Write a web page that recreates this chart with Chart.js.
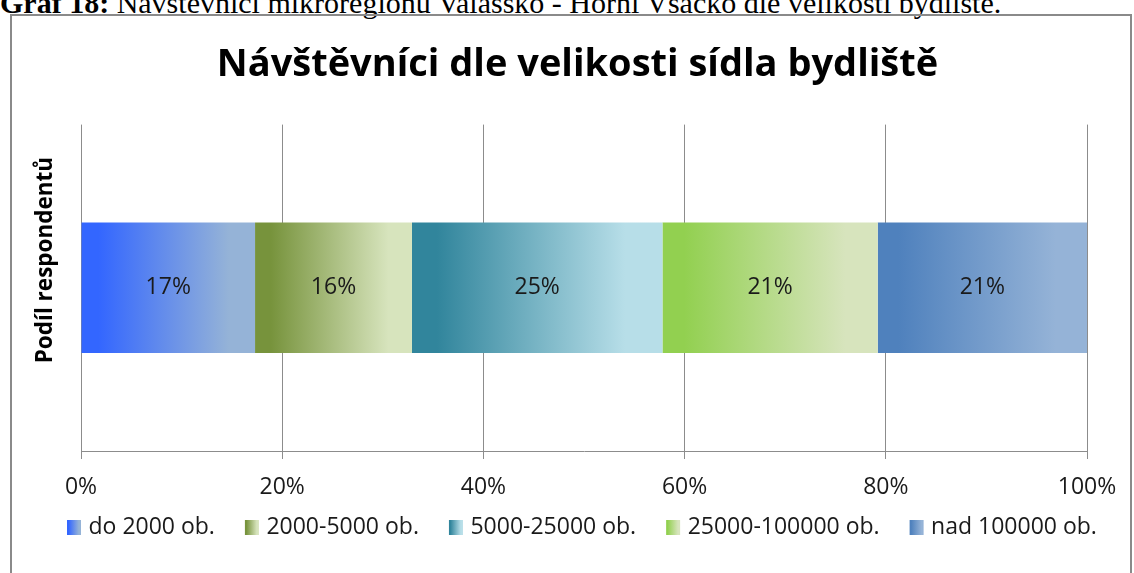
<!DOCTYPE html>
<html>
<head>
<meta charset="utf-8">
<script src="https://cdn.jsdelivr.net/npm/chart.js@4.4.0/dist/chart.umd.min.js"></script>
<style>
  body { margin: 0; background: #fff; overflow: hidden; width: 1134px; height: 573px; position: relative; }
  #caption { position: absolute; left: 0; top: -12px; font-family: "Liberation Serif", serif; font-size: 30px; line-height: 1; white-space: nowrap; color: #000; }
  #frame { position: absolute; left: 10px; top: 14px; width: 1122px; height: 620px; border: 2px solid #8a8a8a; box-sizing: border-box; }
  #wrap { position: absolute; left: 0; top: 0; width: 1134px; height: 549px; }
</style>
</head>
<body>
<div id="caption"><b>Graf 18:</b> Návštěvníci mikroregionu Valašsko - Horní Vsacko dle velikosti bydliště.</div>
<div id="frame"></div>
<div id="wrap"><canvas id="myChart" width="1134" height="549"></canvas></div>
<script>
const chartTitle = 'Návštěvníci dle velikosti sídla bydliště';
const axisTitle = 'Podíl respondentů';
const categories = [''];
const seriesNames = ['do 2000 ob.', '2000-5000 ob.', '5000-25000 ob.', '25000-100000 ob.', 'nad 100000 ob.'];
const seriesValues = [17.3, 15.6, 24.9, 21.4, 20.8];
const tickLabels = ['0%', '20%', '40%', '60%', '80%', '100%'];

// gradient ends for each segment (dark on the left, light on the right)
const darkColors = ['#3366ff', '#77933c', '#31859c', '#92d050', '#4f81bd'];
const lightColors = ['#95b3d7', '#d7e4bd', '#b7dee8', '#d7e4bd', '#95b3d7'];
const textColor = '#1a1a1a';
const gridColor = '#8c8c8c';
const legendGap = 15;

function makeGradient(ctx, x0, x1, i) {
  const g = ctx.createLinearGradient(x0, 0, x1, 0);
  g.addColorStop(0, darkColors[i]);
  g.addColorStop(0.1, darkColors[i]);
  g.addColorStop(0.85, lightColors[i]);
  g.addColorStop(1, lightColors[i]);
  return g;
}

function segmentFill(i) {
  return function (c) {
    const chart = c.chart;
    if (!chart.chartArea || !chart.scales.x) return darkColors[i];
    const start = seriesValues.slice(0, i).reduce((a, b) => a + b, 0);
    const x = chart.scales.x;
    return makeGradient(chart.ctx, x.getPixelForValue(start), x.getPixelForValue(start + seriesValues[i]), i);
  };
}

// percentage written in the middle of every segment
const barLabels = {
  id: 'barLabels',
  afterDatasetsDraw(chart) {
    const ctx = chart.ctx;
    ctx.save();
    ctx.font = '23px "Open Sans"';
    ctx.fillStyle = textColor;
    ctx.textAlign = 'center';
    ctx.textBaseline = 'middle';
    chart.data.datasets.forEach((ds, i) => {
      const bar = chart.getDatasetMeta(i).data[0];
      ctx.fillText(Math.round(ds.data[0]) + '%', (bar.x + bar.base) / 2, bar.y);
    });
    ctx.restore();
  }
};

// legend squares with the same gradient as the bars
const legendBoxes = {
  id: 'legendBoxes',
  afterDraw(chart) {
    const ctx = chart.ctx;
    chart.legend.legendHitBoxes.forEach((hb, i) => {
      const left = hb.left + legendGap;
      const top = hb.top + (hb.height - 15) / 2;
      ctx.fillStyle = makeGradient(ctx, left, left + 14, i);
      ctx.fillRect(left, top, 14, 15);
    });
  }
};

// vertical axis title, sits a bit above the middle like in Excel
const yTitle = {
  id: 'yTitle',
  afterDraw(chart) {
    const { ctx, chartArea } = chart;
    ctx.save();
    ctx.translate(46, chartArea.top + (chartArea.bottom - chartArea.top) * 0.415);
    ctx.rotate(-Math.PI / 2);
    ctx.font = 'bold 22.5px "Open Sans"';
    ctx.fillStyle = '#000';
    ctx.textAlign = 'center';
    ctx.textBaseline = 'middle';
    ctx.fillText(axisTitle, 0, 0);
    ctx.restore();
  }
};

function drawChart() {
  const ctx = document.getElementById('myChart').getContext('2d');
  new Chart(ctx, {
    type: 'bar',
    data: {
      labels: categories,
      datasets: seriesNames.map((name, i) => ({
        label: name,
        data: [seriesValues[i]],
        backgroundColor: segmentFill(i),
        borderWidth: 0,
        barPercentage: 0.4,
        categoryPercentage: 1
      }))
    },
    options: {
      indexAxis: 'y',
      responsive: false,
      animation: false,
      layout: { padding: { left: 37, right: 16, top: 0, bottom: 0 } },
      scales: {
        x: {
          stacked: true,
          min: 0,
          max: 100,
          ticks: {
            stepSize: 20,
            callback: (v, i) => tickLabels[i],
            font: { family: 'Open Sans', size: 23 },
            color: textColor,
            padding: 15
          },
          grid: { color: gridColor, tickColor: gridColor, tickLength: 8 },
          border: { color: gridColor },
          afterFit: s => { s.height = 50; }
        },
        y: {
          stacked: true,
          ticks: { display: false },
          grid: { display: false },
          border: { display: false },
          afterFit: s => { s.width = 44; }
        },
        // empty right-hand axis, only keeps the plot off the right edge
        yRight: {
          type: 'category',
          position: 'right',
          ticks: { display: false },
          grid: { display: false },
          border: { display: false },
          afterFit: s => { s.width = 31; }
        }
      },
      plugins: {
        title: {
          display: true,
          text: chartTitle,
          font: { family: 'Open Sans', size: 38, weight: 'bold' },
          color: '#000',
          padding: { top: 42, bottom: 37 }
        },
        legend: {
          position: 'bottom',
          align: 'start',
          labels: {
            boxWidth: 10 + legendGap,
            boxHeight: 15,
            padding: legendGap,
            font: { family: 'Open Sans', size: 23 },
            color: textColor,
            generateLabels: () => seriesNames.map((name, i) => ({
              text: name,
              fillStyle: 'rgba(0,0,0,0)',
              strokeStyle: 'rgba(0,0,0,0)',
              lineWidth: 0,
              hidden: false,
              datasetIndex: i,
              fontColor: textColor
            }))
          }
        },
        tooltip: { enabled: false }
      }
    },
    plugins: [barLabels, legendBoxes, yTitle]
  });
}

Promise.all([
  document.fonts.load('23px "Open Sans"'),
  document.fonts.load('bold 38px "Open Sans"')
]).then(drawChart, drawChart);
</script>
</body>
</html>
